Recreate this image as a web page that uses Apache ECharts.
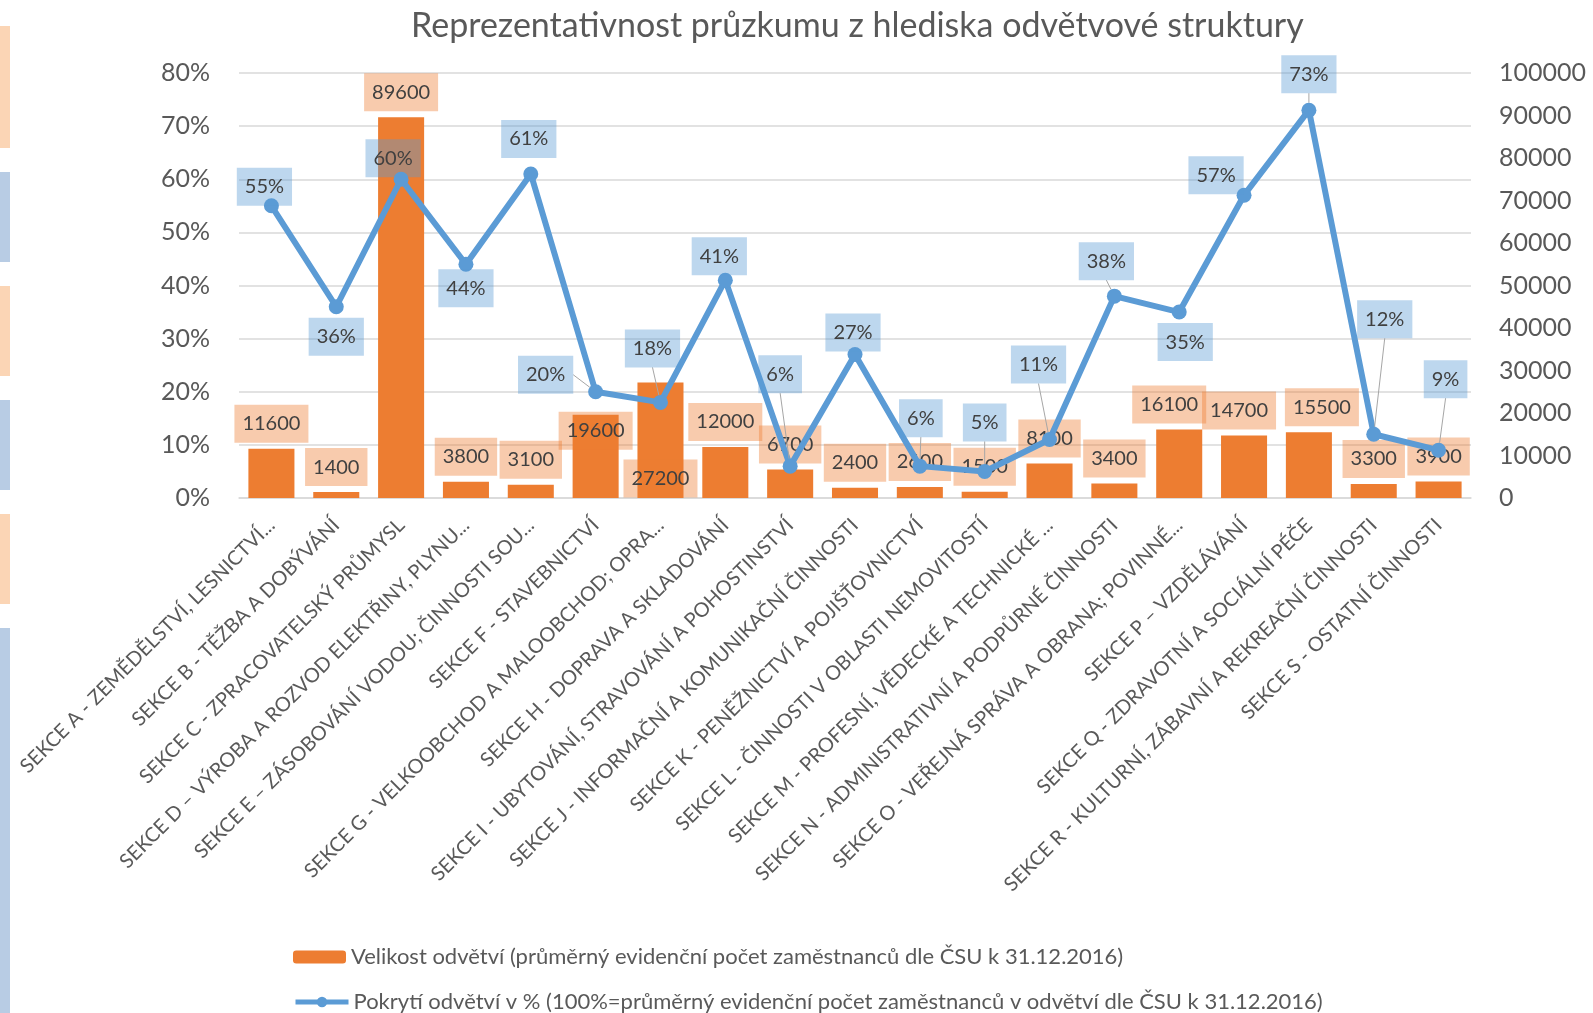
<!DOCTYPE html>
<html>
<head>
<meta charset="utf-8">
<script src="https://cdn.jsdelivr.net/npm/echarts@6/dist/echarts.min.js"></script>
<style>
	html, body { margin: 0; padding: 0; background: #fff; }
	#chart { width: 1593px; height: 1013px; }
</style>
</head>
<body>
<div id="chart"></div>
<script>
	var categories = [
		'SEKCE A - ZEMĚDĚLSTVÍ, LESNICTVÍ...',
		'SEKCE B - TĚŽBA A DOBÝVÁNÍ',
		'SEKCE C - ZPRACOVATELSKÝ PRŮMYSL',
		'SEKCE D – VÝROBA A ROZVOD ELEKTŘINY, PLYNU...',
		'SEKCE E – ZÁSOBOVÁNÍ VODOU; ČINNOSTI SOU...',
		'SEKCE F - STAVEBNICTVÍ',
		'SEKCE G - VELKOOBCHOD A MALOOBCHOD; OPRA...',
		'SEKCE H - DOPRAVA A SKLADOVÁNÍ',
		'SEKCE I - UBYTOVÁNÍ, STRAVOVÁNÍ A POHOSTINSTVÍ',
		'SEKCE J - INFORMAČNÍ A KOMUNIKAČNÍ ČINNOSTI',
		'SEKCE K - PENĚŽNICTVÍ A POJIŠŤOVNICTVÍ',
		'SEKCE L - ČINNOSTI V OBLASTI NEMOVITOSTÍ',
		'SEKCE M - PROFESNÍ, VĚDECKÉ A TECHNICKÉ ...',
		'SEKCE N - ADMINISTRATIVNÍ A PODPŮRNÉ ČINNOSTI',
		'SEKCE O - VEŘEJNÁ SPRÁVA A OBRANA; POVINNÉ...',
		'SEKCE P – VZDĚLÁVÁNÍ',
		'SEKCE Q - ZDRAVOTNÍ A SOCIÁLNÍ PÉČE',
		'SEKCE R - KULTURNÍ, ZÁBAVNÍ A REKREAČNÍ ČINNOSTI',
		'SEKCE S - OSTATNÍ ČINNOSTI'
	]

	// velikost odvětví (počet zaměstnanců)
	var sectorSize = [11600, 1400, 89600, 3800, 3100, 19600, 27200, 12000, 6700, 2400,
		2600, 1500, 8100, 3400, 16100, 14700, 15500, 3300, 3900]

	// pokrytí odvětví v %
	var coverage = [55, 36, 60, 44, 61, 20, 18, 41, 6, 27, 6, 5, 11, 38, 35, 57, 73, 12, 9]

	var percentTicks = { min: 0, max: 80, step: 10 }
	var countTicks = { min: 0, max: 100000, step: 10000 }

	var sizeName = 'Velikost odvětví (průměrný evidenční počet zaměstnanců dle ČSU k 31.12.2016)'
	var coverageName = 'Pokrytí odvětví v % (100%=průměrný evidenční počet zaměstnanců v odvětví dle ČSU k 31.12.2016)'

	// posuny popisků (px), jako v původním grafu
	var coverageLabelShift = [
		[-7, -19], [0, 30], [-8, -21], [0, 24], [-2, -35], [-50, -17], [-8, -54], [-6, -24],
		[-10, -92], [-2, -22], [1, -48], [0, -49], [-11, -75], [-8, -35], [6, 30], [-28, -20],
		[0, -36], [11, -115], [7, -71]
	]
	var coverageLeader = [0, 0, 0, 0, 0, 1, 1, 0, 1, 0, 1, 1, 1, 1, 0, 0, 1, 1, 1]
	var sizeLabelShift = [
		[0, 0], [0, 0], [0, 0], [0, 0], [0, 0], [0, 41], [0, 121], [0, 0], [0, 0], [0, 0],
		[0, 0], [0, 0], [0, 0], [0, 0], [-10, 0], [-5, 0], [13, 0], [0, 0], [0, 0]
	]

	var orange = '#ED7D31'
	var blue = '#5B9BD5'
	var textColor = '#595959'
	var font = 'Lato'

	var chart = echarts.init(document.getElementById('chart'))

	var strips = [[26, 148, '#FBD5B5'], [172, 262, '#B8CCE4'], [286, 376, '#FBD5B5'],
		[400, 490, '#B8CCE4'], [514, 604, '#FBD5B5'], [628, 1013, '#B8CCE4']]

	var legendText = { fontFamily: font, fontSize: 22, color: textColor, lineHeight: 26 }

	var option = {
		animation: false,
		backgroundColor: '#fff',
		textStyle: { fontFamily: font },
		graphic: strips.map(function (s) {
			return { type: 'rect', shape: { x: 0, y: s[0], width: 10, height: s[1] - s[0] }, style: { fill: s[2] } }
		}),
		title: {
			text: 'Reprezentativnost průzkumu z hlediska odvětvové struktury',
			left: 406,
			top: 4,
			textStyle: { fontFamily: font, fontSize: 34, fontWeight: 'normal', color: textColor }
		},
		legend: [
			{
				left: 293,
				top: 944,
				padding: 0,
				itemWidth: 53,
				itemHeight: 13,
				textStyle: legendText,
				data: [sizeName]
			},
			{
				left: 293,
				top: 989,
				padding: 0,
				itemWidth: 53,
				itemHeight: 13,
				lineStyle: { width: 5 },
				textStyle: legendText,
				data: [coverageName]
			}
		],
		grid: {
			left: 239,
			right: 122,
			top: 73,
			bottom: 515
		},
		xAxis: {
			type: 'category',
			data: categories,
			axisTick: { show: false },
			axisLine: { lineStyle: { color: '#d9d9d9', width: 1.5 } },
			axisLabel: {
				interval: 0,
				rotate: 45,
				margin: 24,
				fontFamily: font,
				fontSize: 20,
				color: textColor
			}
		},
		yAxis: [
			{
				type: 'value',
				min: percentTicks.min,
				max: percentTicks.max,
				interval: percentTicks.step,
				axisLine: { show: false },
				axisTick: { show: false },
				axisLabel: { formatter: '{value}%', margin: 29, fontFamily: font, fontSize: 25, color: textColor },
				splitLine: { lineStyle: { color: '#d9d9d9', width: 1.5 } }
			},
			{
				type: 'value',
				min: countTicks.min,
				max: countTicks.max,
				interval: countTicks.step,
				axisLine: { show: false },
				axisTick: { show: false },
				axisLabel: {
					margin: 28, fontFamily: font, fontSize: 25, color: textColor,
					formatter: function (v) { return String(v) }
				},
				splitLine: { show: false }
			}
		],
		series: [
			{
				name: sizeName,
				type: 'bar',
				yAxisIndex: 1,
				barCategoryGap: '29%',
				itemStyle: { color: orange },
				data: sectorSize.map(function (v, i) {
					return { value: v, label: { offset: sizeLabelShift[i] } }
				}),
				label: {
					show: true,
					position: 'top',
					distance: 6,
					fontFamily: font,
					fontSize: 20,
					color: '#404040',
					lineHeight: 24,
					padding: [7, 8],
					backgroundColor: 'rgba(237,125,49,0.4)'
				}
			},
			{
				name: coverageName,
				type: 'line',
				yAxisIndex: 0,
				symbol: 'circle',
				symbolSize: 15,
				itemStyle: { color: blue },
				lineStyle: { color: blue, width: 6 },
				data: coverage.map(function (v, i) {
					return { value: v, labelLine: { show: !!coverageLeader[i] } }
				}),
				label: {
					show: true,
					position: 'inside',
					formatter: '{c}%',
					fontFamily: font,
					fontSize: 20,
					color: '#404040',
					lineHeight: 24,
					padding: [7, 8],
					backgroundColor: 'rgba(91,155,213,0.4)'
				},
				labelLine: {
					show: true,
					lineStyle: { color: '#a6a6a6', width: 1 }
				},
				labelLayout: function (params) {
					if (params.seriesIndex !== 1) return {}
					var s = coverageLabelShift[params.dataIndex]
					return { dx: s[0], dy: s[1] }
				}
			}
		]
	}

	chart.setOption(option)
</script>
</body>
</html>
